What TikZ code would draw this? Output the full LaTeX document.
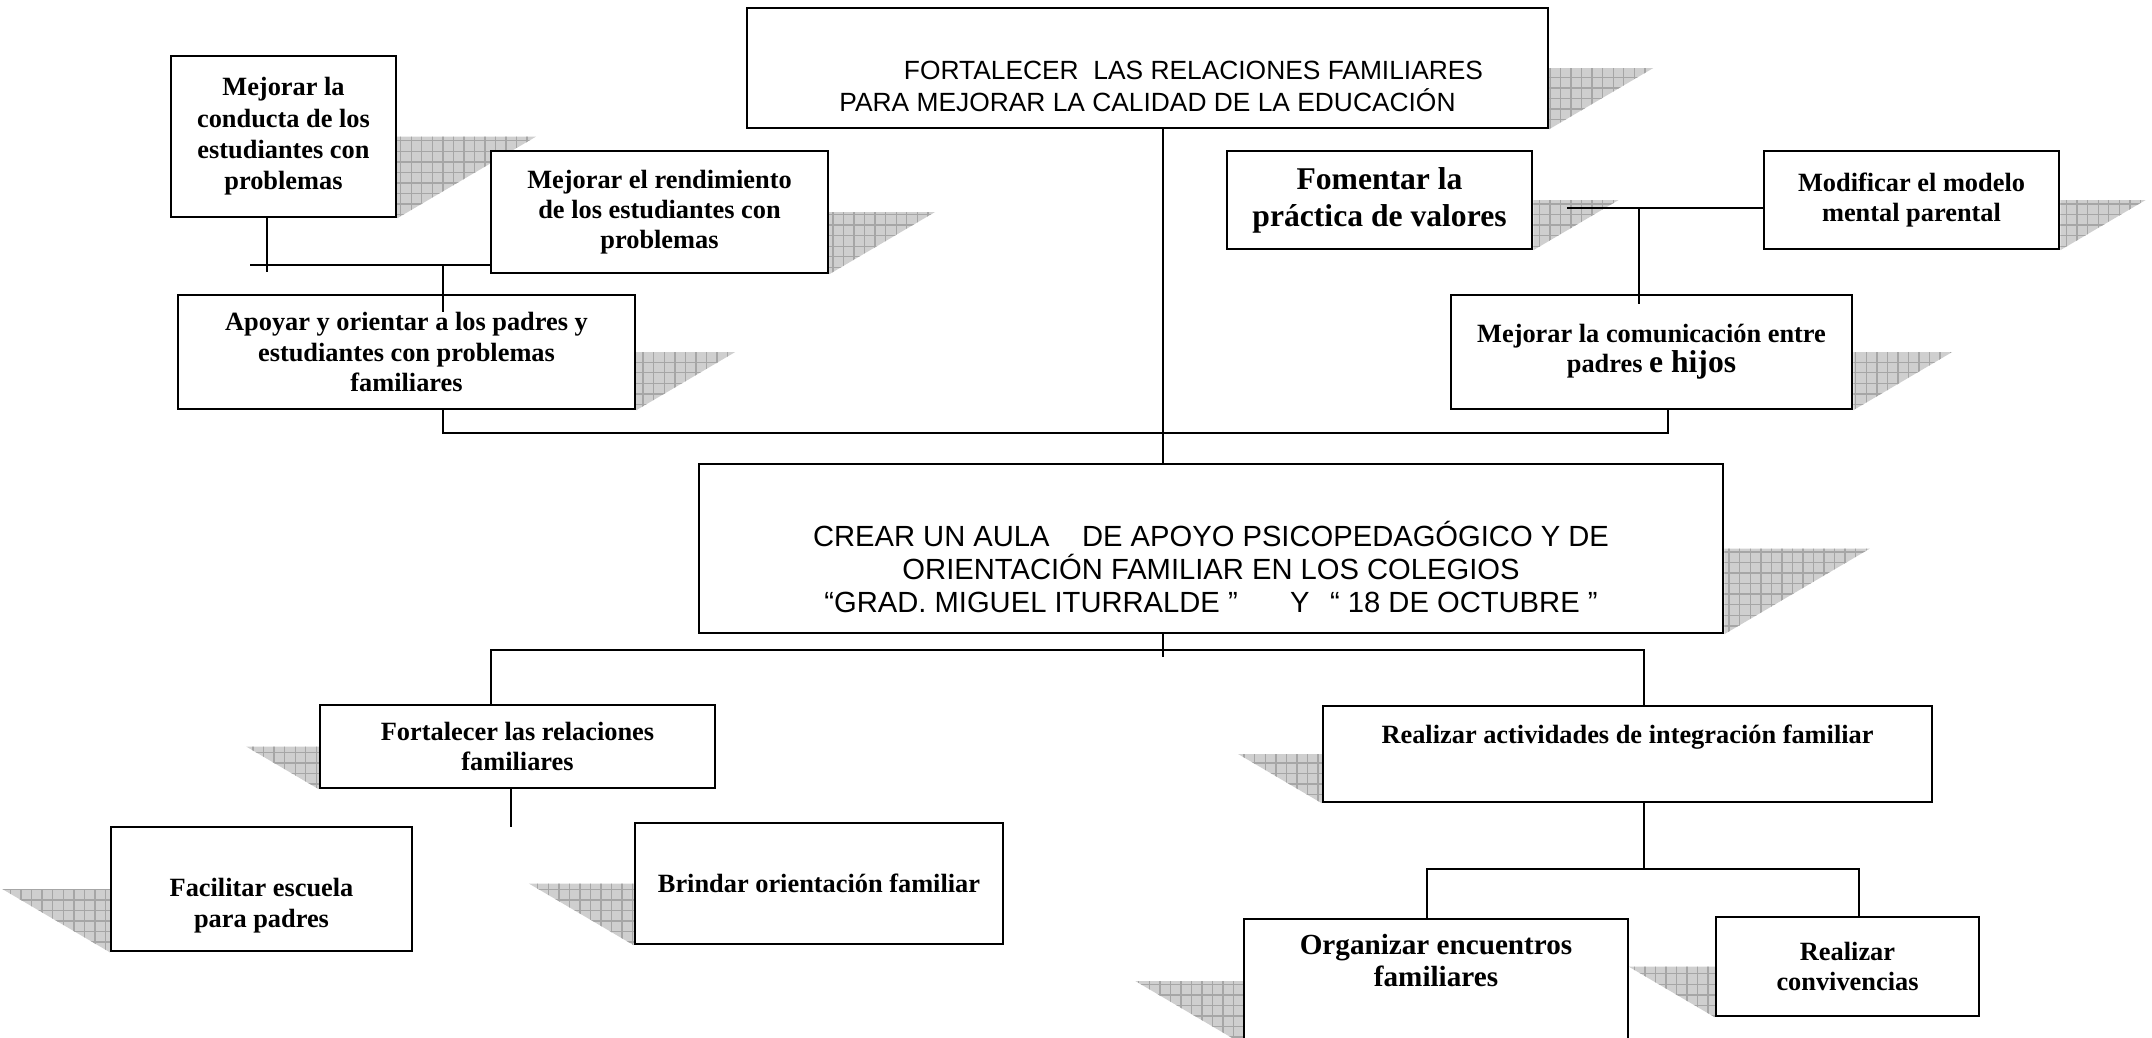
\documentclass[tikz,border=0pt]{standalone}
\usepackage{fontspec}
\setmainfont{Liberation Serif}
\newfontfamily\arialfont{Liberation Sans}
\usetikzlibrary{calc,patterns,backgrounds}
\tikzset{box/.style={draw=black,line width=0.7pt,fill=white,align=center,inner sep=0pt,
 font=\bfseries\fontsize{7.5}{8.6}\selectfont},
 headbox/.style={box,font=\arialfont\fontsize{7.5}{9.1}\selectfont},
 wire/.style={draw=black,line width=0.5pt},
 shadefill/.style={preaction={fill=gray!38},pattern=grid,pattern color=gray!70}}
\newcommand\shadowR[1]{\path[shadefill] (#1.south east)--(#1.east)--($(#1.east)!1.7!90:(#1.south east)$)--cycle;}
\newcommand\shadowL[1]{\path[shadefill] (#1.south west)--(#1.west)--($(#1.west)!1.7!-90:(#1.south west)$)--cycle;}

\begin{document}
\begin{tikzpicture}[x=0.1mm,y=-0.1mm]
\useasboundingbox (0,0) rectangle (2152,1037);
% upper part
\node[headbox,minimum width=80.1mm,minimum height=12mm] (goal) at (1147.5,68)
 {\strut\\\hspace*{9.2mm}FORTALECER\ \ LAS RELACIONES FAMILIARES\\PARA MEJORAR LA CALIDAD DE LA EDUCACIÓN};
\node[box,minimum width=22.5mm,minimum height=16.1mm,font=\bfseries\fontsize{7.5}{8.9}\selectfont] (conduct) at (283.5,136.5)
 {Mejorar la\\conducta de los\\estudiantes con\\problemas};
\node[box,minimum width=33.7mm,minimum height=12.2mm] (grades) at (659.5,212)
 {Mejorar el rendimiento\\de los estudiantes con\\problemas};
\node[box,minimum width=45.7mm,minimum height=11.4mm] (support) at (406.5,352)
 {Apoyar y orientar a los padres y\\estudiantes con problemas\\familiares};
\node[box,minimum width=30.5mm,minimum height=9.8mm,font=\bfseries\fontsize{9}{10.5}\selectfont] (values) at (1379.5,200)
 {Fomentar la\\práctica de valores};
\node[box,minimum width=29.5mm,minimum height=9.8mm] (model) at (1911.5,200)
 {Modificar el modelo\\mental parental};
\node[box,minimum width=40.1mm,minimum height=11.4mm] (talk) at (1651.5,352)
 {Mejorar la comunicación entre\\padres {\fontsize{9}{10.5}\selectfont e hijos}};
% middle
\node[headbox,minimum width=102.4mm,minimum height=16.9mm,font=\arialfont\fontsize{8.3}{9.5}\selectfont] (aula) at (1211,548.5)
 {\strut\\CREAR UN AULA\ \ \ \ DE APOYO PSICOPEDAGÓGICO Y DE\\ORIENTACIÓN FAMILIAR EN LOS COLEGIOS\\“GRAD. MIGUEL ITURRALDE ”\hspace{1.8em}Y\hspace{0.7em}“ 18 DE OCTUBRE ”};
% lower part
\node[box,minimum width=39.5mm,minimum height=8.3mm] (bonds) at (517.5,746.5)
 {Fortalecer las relaciones\\familiares};
\node[box,minimum width=30.1mm,minimum height=12.4mm] (school) at (261.5,889)
 {\strut\\Facilitar escuela\\para padres};
\node[box,minimum width=36.8mm,minimum height=12.1mm] (guide) at (819,883.5)
 {Brindar orientación familiar};
\node[box,minimum width=60.9mm,minimum height=9.6mm] (activ) at (1627.5,754)
 {Realizar actividades de integración familiar\\\strut};
\node[box,minimum width=38.4mm,minimum height=12.4mm,font=\bfseries\fontsize{8.3}{9.1}\selectfont] (meet) at (1436,981)
 {Organizar encuentros\\familiares\\\strut};
\node[box,minimum width=26.3mm,minimum height=9.9mm] (stay) at (1847.5,966.5)
 {Realizar\\convivencias};
% shadows
\begin{scope}[on background layer]
\shadowR{goal}\shadowR{conduct}\shadowR{grades}\shadowR{support}
\shadowR{values}\shadowR{model}\shadowR{talk}\shadowR{aula}
\shadowL{bonds}\shadowL{school}\shadowL{guide}\shadowL{activ}\shadowL{meet}\shadowL{stay}
\end{scope}
% connectors
\coordinate (spine) at (1163,0);
\draw[wire] (goal.south -| spine)--(aula.north -| spine);
\coordinate (aEnd) at (267,272);
\draw[wire] (conduct.south -| aEnd)--(aEnd);
\coordinate (lbar) at (250,265);
\draw[wire] (lbar)--(lbar -| grades.west);
\coordinate (cEnd) at (443,312);
\draw[wire] (cEnd |- lbar)--(cEnd);
\coordinate (mbar) at (443,433);
\coordinate (fLeg) at (1668,433);
\draw[wire] (support.south -| mbar)--(mbar)--(fLeg)--(talk.south -| fLeg);
\coordinate (rbar) at (1567,208);
\draw[wire] (rbar)--(rbar -| model.west);
\coordinate (fEnd) at (1639,304);
\draw[wire] (fEnd |- rbar)--(fEnd);
\coordinate (aulaEnd) at (1163,657);
\draw[wire] (aula.south -| spine)--(aulaEnd);
\coordinate (gLeg) at (491,650);
\coordinate (jLeg) at (1644,650);
\draw[wire] (bonds.north -| gLeg)--(gLeg)--(jLeg)--(activ.north -| jLeg);
\coordinate (gEnd) at (511,827);
\draw[wire] (bonds.south -| gEnd)--(gEnd);
\coordinate (kLeg) at (1427,869);
\coordinate (lLeg) at (1859,869);
\draw[wire] (activ.south -| jLeg)--(jLeg |- kLeg);
\draw[wire] (meet.north -| kLeg)--(kLeg)--(lLeg)--(stay.north -| lLeg);
\end{tikzpicture}
\end{document}
